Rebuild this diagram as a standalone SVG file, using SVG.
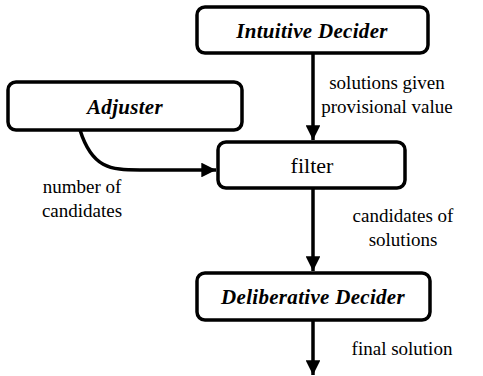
<svg xmlns="http://www.w3.org/2000/svg" width="483" height="376" viewBox="0 0 483 376">
<defs>
<marker id="ah" viewBox="0 0 10 10" refX="10" refY="5" markerWidth="4.2" markerHeight="4.2" markerUnits="strokeWidth" orient="auto">
<path d="M0,0 L10,5 L0,10 Z" fill="#000"/>
</marker>
<style>
.box{fill:#fff;stroke:#000;stroke-width:3.5}
.t{font-family:'Liberation Serif','Times New Roman','DejaVu Serif',serif;font-size:19px;fill:#000;text-anchor:middle}
.n{font-weight:bold;font-style:italic;font-size:21px;letter-spacing:0.3px}
.f{font-size:22px}
.c{fill:none;stroke:#000;stroke-width:3.5}
</style>
</defs>
<g id="connectors">
<path class="c" d="M313,53 L313,140" marker-end="url(#ah)"/>
<path class="c" d="M80,130 C92,168 110,170 140,170 L216,170" marker-end="url(#ah)"/>
<path class="c" d="M313,188 L313,271" marker-end="url(#ah)"/>
<path class="c" d="M313,320 L313,375" marker-end="url(#ah)"/>
</g>
<g id="intuitive">
<rect class="box" x="197" y="7" width="231" height="46" rx="8"/>
<text class="t n" x="312" y="38">Intuitive Decider</text>
</g>
<g id="adjuster">
<rect class="box" x="8" y="82" width="234" height="48" rx="8"/>
<text class="t n" x="125" y="114">Adjuster</text>
</g>
<g id="filter">
<rect class="box" x="218" y="142" width="187" height="46" rx="8"/>
<text class="t f" x="312" y="173">filter</text>
</g>
<g id="deliberative">
<rect class="box" x="197" y="273" width="233" height="47" rx="8"/>
<text class="t n" x="313" y="304">Deliberative Decider</text>
</g>
<g id="labels">
<text class="t" x="387" y="89">solutions given</text>
<text class="t" x="387" y="113">provisional value</text>
<text class="t" x="82" y="193">number of</text>
<text class="t" x="82" y="217">candidates</text>
<text class="t" x="403" y="222">candidates of</text>
<text class="t" x="403" y="246">solutions</text>
<text class="t" x="402" y="355">final solution</text>
</g>
</svg>
